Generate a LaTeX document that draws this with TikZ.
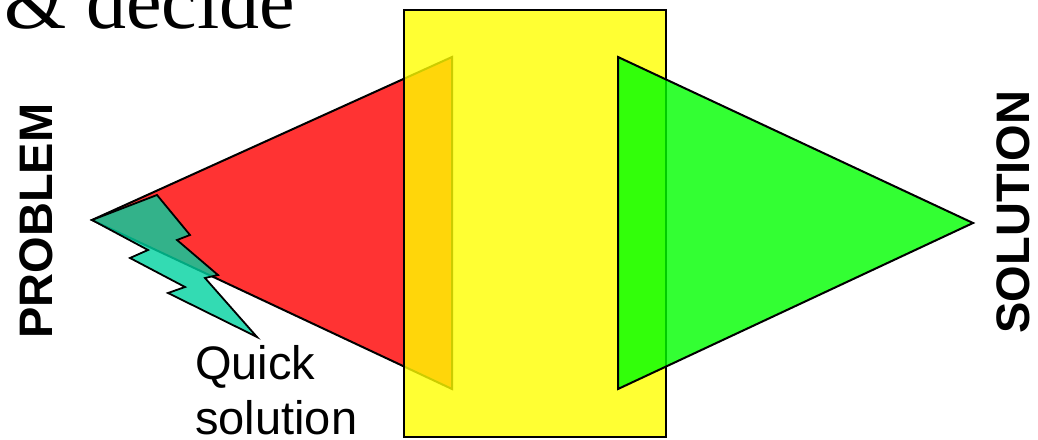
\documentclass[tikz,border=0pt]{standalone}
\usepackage{fontspec}
\setsansfont{Liberation Sans}
\newfontfamily\headfont{Liberation Serif}
\usepackage{xcolor}
\usepackage{tikz}
\usetikzlibrary{positioning}
\definecolor{problemred}{RGB}{255, 51, 51}
\definecolor{decideyellow}{RGB}{255, 255, 0}
\definecolor{solutiongreen}{RGB}{0, 255, 0}
\definecolor{quickteal}{RGB}{0, 210, 160}

\begin{document}
\begin{tikzpicture}[x=1pt, y=-1pt,
    funnel/.style={draw=black, line width=2pt, fill=#1, line join=miter},
    sidelabel/.style={font=\sffamily\bfseries\fontsize{47}{56}\selectfont,
                      rotate=90, inner sep=0pt, anchor=south},
]
    \useasboundingbox (0,0) rectangle (1038,439);

    \node[font=\headfont\fontsize{80}{90}\selectfont, anchor=base west, inner sep=0pt]
        (heading) at (4,28) {\& decide};

    \draw[funnel=problemred] (92,220) -- (452,57) -- (452,389) -- cycle;
    \draw[funnel=quickteal, fill opacity=0.8, line width=1.8pt]
        (92,220) -- (157,195) -- (190,235) -- (177,240) -- (218,275) -- (205,278)
        -- (257,337) -- (168,293) -- (185,287) -- (130,258) -- (148,250) -- cycle;
    \draw[funnel=decideyellow, fill opacity=0.8] (404,10) rectangle (666,437);
    \draw[funnel=solutiongreen, fill opacity=0.8] (618,57) -- (973,223) -- (618,389) -- cycle;

    \node[sidelabel] (problem) at (53,221) {PROBLEM};
    \node[sidelabel] (solution) at (1030,212) {SOLUTION};

    \node[font=\sffamily\fontsize{47}{55}\selectfont, align=left, anchor=north west,
          inner sep=0pt] (quick) at (195,345) {Quick\\solution};
\end{tikzpicture}
\end{document}
